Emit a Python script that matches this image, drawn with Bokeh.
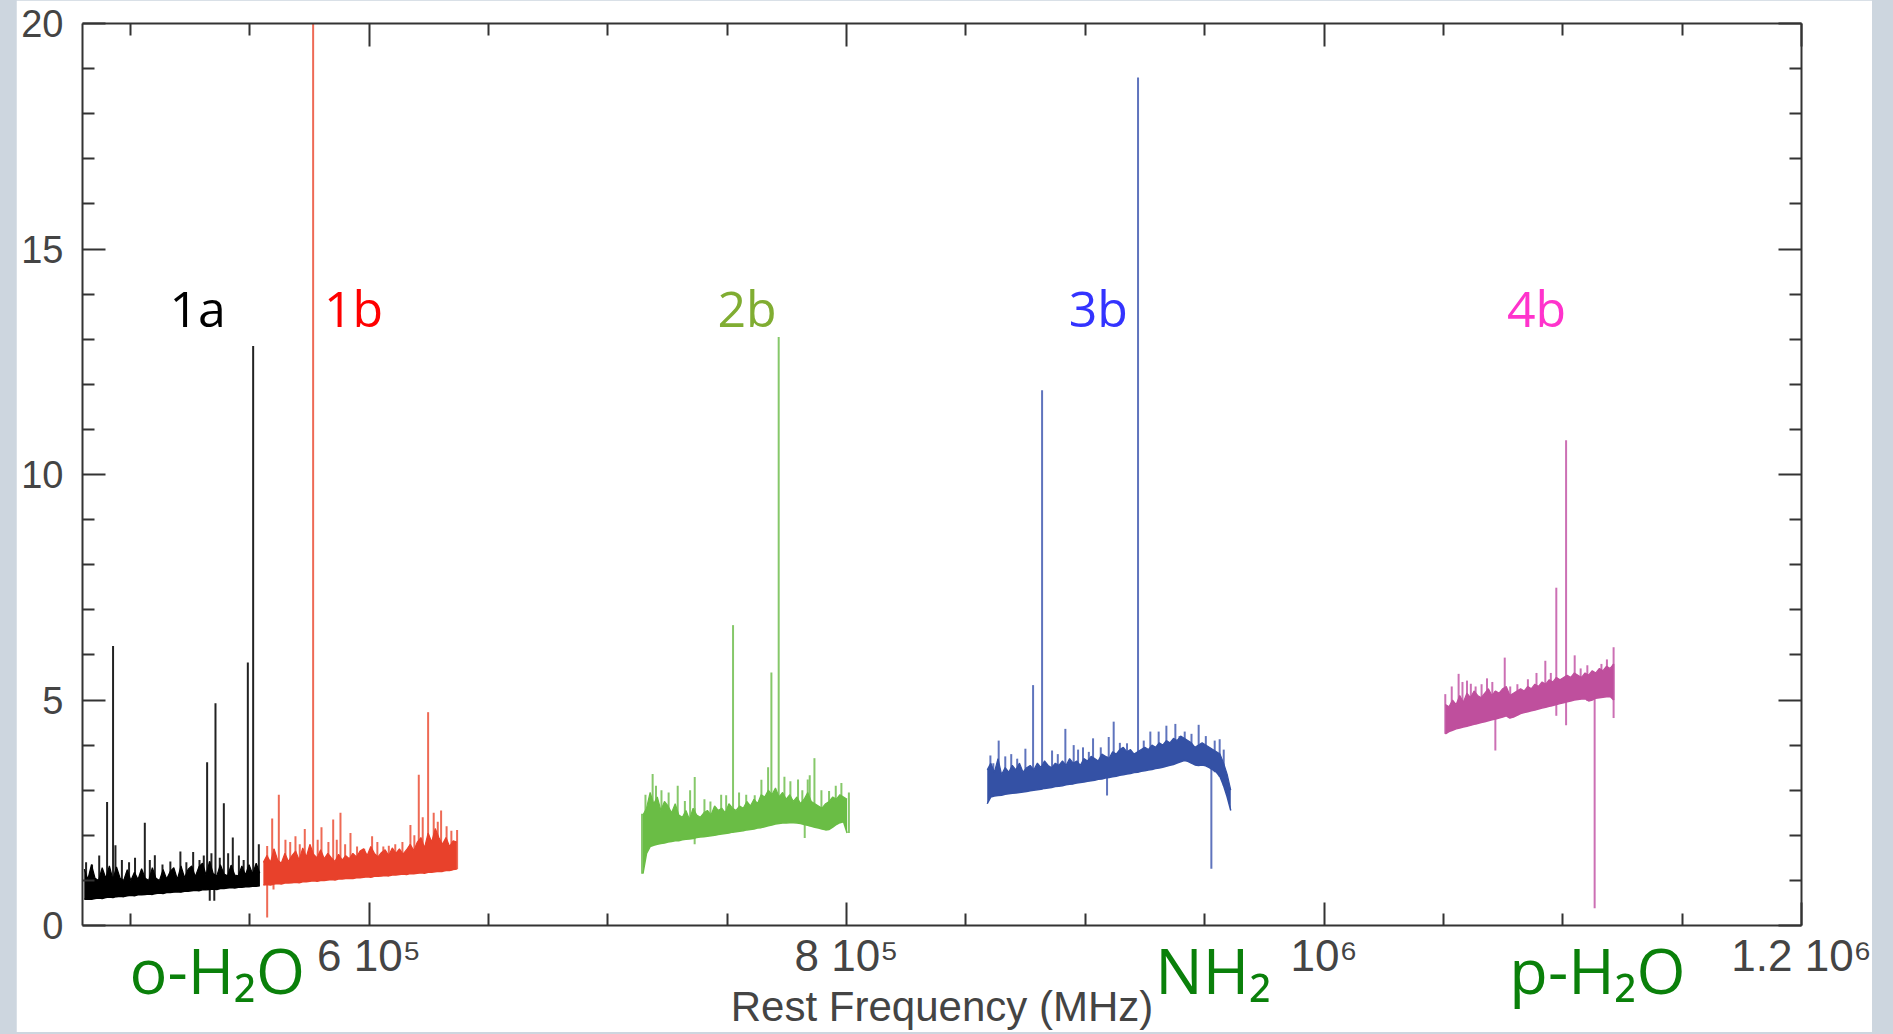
import numpy as np
from bokeh.plotting import figure
from bokeh.models import (Range1d, LinearAxis, FixedTicker, Label,
                          CustomJSTickFormatter, Spacer)
from bokeh.layouts import row, column
from bokeh.core.properties import value
from bokeh.embed import file_html
from bokeh.resources import INLINE

# ---------------- data (Rest frequency in MHz, intensity) ----------------
x_major = [600000, 800000, 1000000, 1200000]
x_tick_labels = ["6 10\u2075", "8 10\u2075", "10\u2076", "1.2 10\u2076"]
x_minor = [500000, 550000, 650000, 700000, 750000, 850000, 900000, 950000,
           1050000, 1100000, 1150000]
y_major = [0, 5, 10, 15, 20]
y_minor = [1, 2, 3, 4, 6, 7, 8, 9, 11, 12, 13, 14, 16, 17, 18, 19]

# band 1a
f_1a = [480750, 482250, 483750, 485250, 486750, 488250, 489750, 491250, 492750, 494250,
        495750, 497250, 498750, 500250, 501750, 503250, 504750, 506250, 507750, 509250,
        510750, 512250, 513750, 515250, 516750, 518250, 519750, 521250, 522750, 524250,
        525750, 527250, 528750, 530250, 531750, 533250, 534750, 536250, 537750, 539250,
        540750, 542250, 543750, 545250, 546750, 548250, 549750, 551250, 552750, 554250]
lo_1a = [0.58, 0.59, 0.58, 0.60, 0.61, 0.60, 0.62, 0.63, 0.62, 0.64,
         0.65, 0.64, 0.66, 0.67, 0.66, 0.68, 0.68, 0.69, 0.70, 0.69,
         0.71, 0.72, 0.71, 0.73, 0.73, 0.74, 0.75, 0.74, 0.76, 0.76,
         0.77, 0.78, 0.77, 0.79, 0.79, 0.80, 0.81, 0.80, 0.82, 0.82,
         0.83, 0.84, 0.83, 0.85, 0.85, 0.86, 0.86, 0.87, 0.87, 0.88]
hi_1a = [1.25, 1.02, 1.35, 1.05, 1.00, 1.28, 1.05, 1.32, 1.02, 1.30,
         1.05, 1.00, 1.24, 1.00, 1.18, 1.02, 1.26, 1.05, 1.00, 1.28,
         1.05, 1.00, 1.24, 1.03, 1.20, 1.28, 1.02, 1.32, 1.06, 1.25,
         1.32, 1.08, 1.30, 1.38, 1.12, 1.42, 1.15, 1.10, 1.35, 1.14,
         1.10, 1.34, 1.12, 1.10, 1.32, 1.12, 1.35, 1.14, 1.38, 1.16]
sf_1a = [481500, 484000, 487000, 490300, 492800, 493800, 496500, 499500, 502000, 506100,
         508200, 510300, 513500, 516800, 521000, 523500, 526350, 529000, 530800, 532200,
         534000, 535700, 537500, 539200, 541000, 542950, 545500, 547500, 549250, 551480,
         553850]
st_1a = [1.40, 1.35, 1.55, 2.74, 6.20, 1.78, 1.45, 1.40, 1.50, 2.28,
         1.45, 1.56, 1.35, 1.42, 1.64, 1.40, 1.63, 1.45, 1.55, 3.62,
         1.60, 4.93, 1.50, 2.71, 1.60, 1.95, 1.55, 1.45, 5.83, 12.85,
         1.80]
af_1a = [533300, 535200]
ab_1a = [0.55, 0.55]

# band 1b
f_1b = [555750, 557250, 558750, 560250, 561750, 563250, 564750, 566250, 567750, 569250,
        570750, 572250, 573750, 575250, 576750, 578250, 579750, 581250, 582750, 584250,
        585750, 587250, 588750, 590250, 591750, 593250, 594750, 596250, 597750, 599250,
        600750, 602250, 603750, 605250, 606750, 608250, 609750, 611250, 612750, 614250,
        615750, 617250, 618750, 620250, 621750, 623250, 624750, 626250, 627750, 629250,
        630750, 632250, 633750, 635250, 636750]
lo_1b = [0.90, 0.91, 0.90, 0.92, 0.93, 0.92, 0.94, 0.94, 0.95, 0.96,
         0.95, 0.97, 0.97, 0.98, 0.99, 0.98, 1.00, 1.00, 1.01, 1.02,
         1.01, 1.03, 1.03, 1.04, 1.05, 1.04, 1.06, 1.06, 1.07, 1.08,
         1.07, 1.09, 1.09, 1.10, 1.11, 1.10, 1.12, 1.12, 1.13, 1.14,
         1.13, 1.15, 1.15, 1.16, 1.17, 1.16, 1.18, 1.18, 1.19, 1.20,
         1.20, 1.22, 1.22, 1.24, 1.25]
hi_1b = [1.40, 1.55, 1.40, 1.70, 1.45, 1.38, 1.60, 1.42, 1.55, 1.65,
         1.45, 1.72, 1.52, 1.80, 1.58, 1.50, 1.68, 1.48, 1.60, 1.50,
         1.42, 1.58, 1.45, 1.55, 1.48, 1.60, 1.52, 1.65, 1.70, 1.55,
         1.75, 1.60, 1.52, 1.62, 1.68, 1.55, 1.72, 1.60, 1.70, 1.58,
         1.68, 1.80, 1.66, 1.85, 1.95, 1.72, 2.05, 1.85, 2.15, 1.95,
         1.80, 1.95, 1.75, 1.88, 1.85]
sf_1b = [557350, 559450, 562230, 565000, 567000, 569200, 571000, 573100, 576600, 578500,
         580100, 583000, 585000, 586500, 588050, 590000, 592240, 595000, 598000, 601300,
         603500, 606000, 608300, 611000, 614000, 617350, 619000, 620850, 622500, 624760,
         627100, 628800, 630200, 632500, 634500, 636900]
st_1b = [1.76, 2.37, 2.90, 1.90, 1.85, 1.98, 1.80, 2.14, 21.0, 1.90,
         2.18, 1.85, 2.35, 1.90, 2.50, 1.80, 2.05, 1.75, 1.70, 1.98,
         1.85, 1.75, 1.77, 1.80, 1.85, 2.23, 2.00, 3.34, 2.40, 4.73,
         2.50, 2.30, 2.55, 2.20, 2.10, 2.12]
af_1b = [557350, 560000]
ab_1b = [0.18, 0.80]

# band 2b
f_2b = [714750, 716250, 717750, 719250, 720750, 722250, 723750, 725250, 726750, 728250,
        729750, 731250, 732750, 734250, 735750, 737250, 738750, 740250, 741750, 743250,
        744750, 746250, 747750, 749250, 750750, 752250, 753750, 755250, 756750, 758250,
        759750, 761250, 762750, 764250, 765750, 767250, 768750, 770250, 771750, 773250,
        774750, 776250, 777750, 779250, 780750, 782250, 783750, 785250, 786750, 788250,
        789750, 791250, 792750, 794250, 795750, 797250, 798750, 800250]
lo_2b = [1.15, 1.60, 1.75, 1.78, 1.80, 1.82, 1.83, 1.85, 1.86, 1.88,
         1.88, 1.90, 1.91, 1.92, 1.93, 1.95, 1.96, 1.97, 1.98, 1.99,
         2.00, 2.02, 2.03, 2.04, 2.05, 2.07, 2.08, 2.09, 2.10, 2.12,
         2.13, 2.14, 2.16, 2.17, 2.19, 2.21, 2.23, 2.25, 2.26, 2.27,
         2.27, 2.28, 2.28, 2.27, 2.26, 2.24, 2.22, 2.20, 2.18, 2.16,
         2.14, 2.12, 2.13, 2.18, 2.24, 2.28, 2.30, 2.05]
hi_2b = [2.45, 2.60, 2.95, 2.70, 2.85, 2.55, 2.75, 2.65, 2.50, 2.70,
         2.45, 2.40, 2.55, 2.35, 2.60, 2.45, 2.40, 2.50, 2.55, 2.45,
         2.65, 2.55, 2.60, 2.50, 2.70, 2.60, 2.55, 2.65, 2.60, 2.75,
         2.65, 2.80, 2.70, 2.90, 2.85, 3.00, 2.90, 3.05, 2.85, 2.95,
         2.80, 2.90, 2.75, 2.85, 2.70, 2.80, 2.95, 2.75, 2.70, 2.65,
         2.60, 2.70, 2.75, 2.85, 2.80, 2.90, 2.85, 2.80]
sf_2b = [714360, 715800, 718800, 720200, 722500, 725500, 729300, 732300, 734500, 736430,
         740500, 743000, 745100, 747500, 749600, 752480, 755000, 758000, 761560, 764360,
         767160, 768540, 771600, 774000, 776500, 779700, 781500, 783760, 784600, 786570,
         789500, 792700, 795500, 797860, 801000]
st_2b = [2.48, 2.90, 3.36, 3.10, 3.00, 2.95, 3.10, 2.76, 3.00, 3.29,
         2.80, 2.75, 2.63, 2.90, 2.89, 6.66, 2.95, 2.90, 2.89, 3.23,
         3.51, 5.61, 13.05, 3.30, 3.20, 3.24, 3.00, 3.24, 3.33, 3.71,
         3.00, 2.98, 3.10, 3.16, 2.95]
af_2b = [736400, 782500]
ab_2b = [1.80, 1.94]

# band 3b
f_3b = [858950, 860450, 861950, 863450, 864950, 866450, 867950, 869450, 870950, 872450,
        873950, 875450, 876950, 878450, 879950, 881450, 882950, 884450, 885950, 887450,
        888950, 890450, 891950, 893450, 894950, 896450, 897950, 899450, 900950, 902450,
        903950, 905450, 906950, 908450, 909950, 911450, 912950, 914450, 915950, 917450,
        918950, 920450, 921950, 923450, 924950, 926450, 927950, 929450, 930950, 932450,
        933950, 935450, 936950, 938450, 939950, 941450, 942950, 944450, 945950, 947450,
        948950, 950450, 951950, 953450, 954950, 956450, 957950, 959450, 960950]
lo_3b = [2.70, 2.85, 2.87, 2.88, 2.89, 2.91, 2.92, 2.93, 2.94, 2.95,
         2.96, 2.97, 2.99, 3.00, 3.01, 3.02, 3.04, 3.05, 3.06, 3.08,
         3.09, 3.10, 3.12, 3.13, 3.14, 3.16, 3.17, 3.18, 3.20, 3.21,
         3.22, 3.24, 3.25, 3.27, 3.28, 3.30, 3.31, 3.33, 3.34, 3.36,
         3.37, 3.39, 3.40, 3.42, 3.43, 3.45, 3.46, 3.48, 3.49, 3.51,
         3.53, 3.55, 3.57, 3.60, 3.63, 3.66, 3.64, 3.60, 3.56, 3.55,
         3.56, 3.54, 3.50, 3.45, 3.40, 3.30, 3.10, 2.85, 2.55]
hi_3b = [3.45, 3.60, 3.40, 3.70, 3.35, 3.50, 3.40, 3.55, 3.45, 3.60,
         3.40, 3.50, 3.55, 3.45, 3.60, 3.50, 3.65, 3.55, 3.50, 3.60,
         3.55, 3.65, 3.55, 3.70, 3.60, 3.65, 3.55, 3.70, 3.65, 3.75,
         3.70, 3.65, 3.80, 3.75, 3.70, 3.85, 3.80, 3.90, 3.95, 3.85,
         3.90, 3.80, 3.85, 3.90, 3.95, 3.90, 4.00, 3.95, 4.05, 4.00,
         4.10, 4.05, 4.15, 4.10, 4.20, 4.15, 4.10, 4.05, 3.95, 4.00,
         4.05, 4.00, 3.95, 3.90, 3.85, 3.80, 3.60, 3.35, 3.00]
sf_3b = [860270, 861500, 863740, 866500, 869000, 871500, 874930, 878150, 881920, 886100,
         888500, 891670, 895160, 897000, 899060, 901500, 903270, 906500, 909830, 911910,
         914500, 917500, 922110, 924500, 927260, 930750, 933980, 937740, 939500, 941660,
         944500, 947500, 950500, 954220, 956300, 958000]
st_3b = [3.77, 3.60, 4.10, 3.75, 3.80, 3.70, 3.92, 5.33, 11.87, 3.88,
         3.80, 4.36, 4.00, 3.90, 3.95, 3.85, 4.15, 3.95, 4.18, 4.52,
         4.05, 4.04, 18.80, 4.10, 4.30, 4.30, 4.43, 4.47, 4.20, 4.30,
         4.25, 4.45, 4.20, 4.10, 4.13, 3.90]
af_3b = [909130, 952820]
ab_3b = [2.88, 1.26]

# band 4b
f_4b = [1050850, 1052350, 1053850, 1055350, 1056850, 1058350, 1059850, 1061350, 1062850, 1064350,
        1065850, 1067350, 1068850, 1070350, 1071850, 1073350, 1074850, 1076350, 1077850, 1079350,
        1080850, 1082350, 1083850, 1085350, 1086850, 1088350, 1089850, 1091350, 1092850, 1094350,
        1095850, 1097350, 1098850, 1100350, 1101850, 1103350, 1104850, 1106350, 1107850, 1109350,
        1110850, 1112350, 1113850, 1115350, 1116850, 1118350, 1119850, 1121350]
lo_4b = [4.25, 4.30, 4.33, 4.36, 4.38, 4.40, 4.42, 4.44, 4.46, 4.48,
         4.50, 4.52, 4.54, 4.56, 4.58, 4.60, 4.62, 4.65, 4.60, 4.62,
         4.66, 4.70, 4.72, 4.74, 4.76, 4.78, 4.80, 4.82, 4.84, 4.86,
         4.88, 4.90, 4.92, 4.94, 4.96, 4.98, 5.00, 5.01, 5.02, 5.03,
         4.98, 5.00, 5.04, 5.05, 5.06, 5.07, 5.08, 5.00]
hi_4b = [4.90, 4.85, 5.00, 4.90, 5.10, 4.95, 5.15, 5.05, 5.20, 5.10,
         5.05, 5.15, 5.25, 5.10, 5.20, 5.15, 5.25, 5.30, 5.10, 5.15,
         5.20, 5.25, 5.20, 5.30, 5.25, 5.35, 5.30, 5.40, 5.35, 5.45,
         5.40, 5.50, 5.45, 5.50, 5.55, 5.50, 5.60, 5.55, 5.50, 5.60,
         5.55, 5.65, 5.60, 5.70, 5.65, 5.75, 5.70, 5.80]
sf_4b = [1050800, 1053500, 1056380, 1058000, 1059900, 1061500, 1063500, 1066000, 1068280, 1070500,
         1075700, 1078000, 1081000, 1085400, 1089000, 1092700, 1095000, 1097300, 1101400, 1105000,
         1107500, 1110300, 1113000, 1116200, 1118500, 1121300]
st_4b = [5.13, 5.30, 5.58, 5.40, 5.43, 5.36, 5.30, 5.35, 5.48, 5.40,
         5.94, 5.30, 5.35, 5.46, 5.60, 5.87, 5.60, 7.49, 10.76, 5.99,
         5.70, 5.77, 5.60, 5.80, 5.90, 6.17]
af_4b = [1071770, 1097300, 1101400, 1113360, 1121300]
ab_4b = [3.88, 4.65, 4.44, 0.38, 4.60]

band_names = ["1a", "1b", "2b", "3b", "4b"]
molecules = ["o-H\u2082O", "NH\u2082", "p-H\u2082O"]

# ---------------- styles ----------------
band_color = {"1a": "#000000", "1b": "#e8412b", "2b": "#6abd45", "3b": "#3451a5", "4b": "#bf4f9d"}
spike_color = {"1a": "#222222", "1b": "#ee6a55", "2b": "#86c86a", "3b": "#5f74bd", "4b": "#cc70b4"}
name_color = {"1a": "#000000", "1b": "#ff0000", "2b": "#80ad32", "3b": "#3333ff", "4b": "#ff33cc"}

FIG_W, FIG_H = 1856, 1032
BL, BR, BT, BB = 66, 71, 23, 105

p = figure(width=FIG_W, height=FIG_H,
           x_range=Range1d(480000, 1200000), y_range=Range1d(0, 20),
           output_backend="svg", toolbar_location=None,
           min_border_left=BL, min_border_right=BR, min_border_top=BT, min_border_bottom=BB,
           background_fill_color="white", border_fill_color="white")
p.grid.visible = False
p.outline_line_color = None

AX = "#333333"
FONT = "Liberation Sans"


def style_axis(ax):
    ax.axis_line_color = AX
    ax.axis_line_width = 2
    ax.major_tick_line_color = AX
    ax.major_tick_line_width = 2
    ax.minor_tick_line_color = AX
    ax.minor_tick_line_width = 2
    ax.major_tick_in = 23
    ax.major_tick_out = 0
    ax.minor_tick_in = 12
    ax.minor_tick_out = 0
    ax.major_label_text_font = FONT
    ax.major_label_text_color = "#444444"


xt = FixedTicker(ticks=x_major, minor_ticks=x_minor)
yt = FixedTicker(ticks=y_major, minor_ticks=y_minor)

xa = p.xaxis[0]
xa.ticker = xt
xa.formatter = CustomJSTickFormatter(args=dict(vals=x_major, labs=x_tick_labels), code="""
    for (let i = 0; i < vals.length; i++) { if (Math.abs(vals[i] - tick) < 1) return labs[i]; }
    return "";
""")
style_axis(xa)
xa.major_label_text_font_size = "44px"
xa.major_label_standoff = 5
xa.axis_label = "Rest Frequency (MHz)"
xa.axis_label_text_font = FONT
xa.axis_label_text_font_style = "normal"
xa.axis_label_text_font_size = "42px"
xa.axis_label_text_color = "#444444"
xa.axis_label_standoff = 0

ya = p.yaxis[0]
ya.ticker = yt
style_axis(ya)
ya.major_label_text_font_size = "38px"
ya.major_label_standoff = 19
ya.major_label_orientation = "horizontal"

blank = "return '';"
top = LinearAxis(ticker=xt, formatter=CustomJSTickFormatter(code=blank))
style_axis(top)
top.major_label_text_font_size = "0px"
top.major_label_standoff = 0
p.add_layout(top, "above")
right = LinearAxis(ticker=yt, formatter=CustomJSTickFormatter(code=blank))
style_axis(right)
right.major_label_text_font_size = "0px"
right.major_label_standoff = 0
p.add_layout(right, "right")

bands = {
    "1a": (f_1a, lo_1a, hi_1a, sf_1a, st_1a, af_1a, ab_1a),
    "1b": (f_1b, lo_1b, hi_1b, sf_1b, st_1b, af_1b, ab_1b),
    "2b": (f_2b, lo_2b, hi_2b, sf_2b, st_2b, af_2b, ab_2b),
    "3b": (f_3b, lo_3b, hi_3b, sf_3b, st_3b, af_3b, ab_3b),
    "4b": (f_4b, lo_4b, hi_4b, sf_4b, st_4b, af_4b, ab_4b),
}

for name in band_names:
    f, lo, hi, sf, st, af, ab = bands[name]
    n = min(len(f), len(lo), len(hi))
    f, lo, hi = np.array(f[:n], float), np.array(lo[:n]), np.array(hi[:n])
    m = min(len(sf), len(st))
    sf, st = np.array(sf[:m], float), np.array(st[:m])
    base = lo[[int(np.argmin(np.abs(f - s))) for s in sf]]
    k = min(len(af), len(ab))
    af, ab = np.array(af[:k], float), np.array(ab[:k])
    atop = hi[[int(np.argmin(np.abs(f - a))) for a in af]]
    p.segment(x0=sf, y0=base, x1=sf, y1=st, line_color=spike_color[name], line_width=2)
    p.segment(x0=af, y0=atop, x1=af, y1=ab, line_color=spike_color[name], line_width=2)
    p.varea(x=f, y1=lo, y2=hi, fill_color=band_color[name])
    p.line(x=f, y=hi, line_color=band_color[name], line_width=1.2)
    p.line(x=f, y=lo, line_color=band_color[name], line_width=1.5)

# band names (centre of the digits)
name_pos = {"1a": 516400, "1b": 581100, "2b": 745950, "3b": 893100, "4b": 1076600}
for name in band_names:
    p.add_layout(Label(x=name_pos[name], y=13.7, text=name, text_color=name_color[name],
                       text_font="Open Sans", text_font_size="50px",
                       text_baseline="middle", text_align="left"))

# molecule names below the axis: a transparent strip laid over the bottom border
STRIP_H = 150
p2 = figure(width=FIG_W, height=STRIP_H,
            x_range=p.x_range, y_range=Range1d(0, 1),
            output_backend="svg", toolbar_location=None,
            x_axis_location=None, y_axis_location=None,
            min_border_left=BL, min_border_right=BR, min_border_top=0, min_border_bottom=0,
            background_fill_color=None, border_fill_color=None,
            styles={"margin-top": "-%dpx" % STRIP_H})
p2.grid.visible = False
p2.outline_line_color = None
mol_x = [499680, 929370, 1077630]
p2.text(x=mol_x, y=[0.417] * len(mol_x), text=molecules,
        text_font=value("Open Sans"), text_font_size=value("63px"),
        text_color="#0a800a", text_baseline="middle", text_align="left")

layout = row(Spacer(width=16, height=FIG_H), column(p, p2))
html = file_html(layout, INLINE, title="Rest frequency spectra")
html = html.replace("<head>",
                    "<head><style>html, body { margin: 0; padding: 0; background: #cdd6df; overflow: hidden; }</style>",
                    1)
open("out.html", "w").write(html)
